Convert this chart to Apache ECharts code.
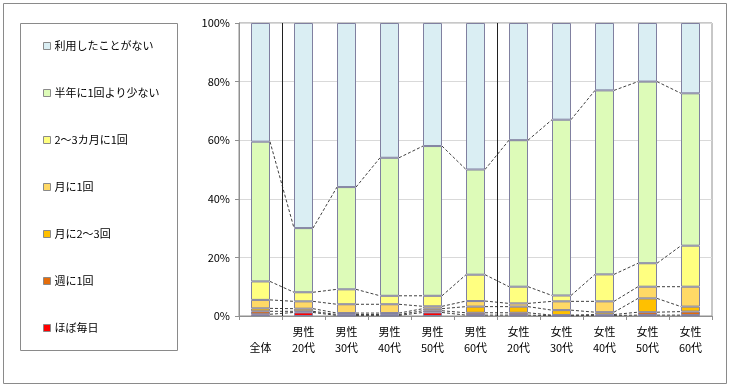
<!DOCTYPE html>
<html><head><meta charset="utf-8">
<script src="https://cdn.jsdelivr.net/npm/echarts@6/dist/echarts.min.js"></script>
<style>html,body{margin:0;padding:0;background:#fff}#c{width:730px;height:387px}</style>
</head><body><div id="c"></div>
<script>
const categories = ['全体','男性\n20代','男性\n30代','男性\n40代','男性\n50代','男性\n60代','女性\n20代','女性\n30代','女性\n40代','女性\n50代','女性\n60代'];
const seriesNames = ['ほぼ毎日','週に1回','月に2～3回','月に1回','2～3カ月に1回','半年に1回より少ない','利用したことがない'];
const mainichi   = [0.6,1.2,0.2,0.2,1.2,0.3,0.3,0.1,0.2,0.3,0.3];
const shuu       = [1.0,0.4,0.3,0.3,0.6,0.8,0.8,0.2,0.3,1.0,1.2];
const tsuki23    = [1.0,0.9,0.5,0.5,0.7,2.1,2.1,1.7,0.8,4.7,1.7];
const tsuki1     = [2.9,2.5,3.0,3.0,0.8,1.9,1.1,3.0,3.7,4.0,6.8];
const kagetsu23  = [6.3,3.1,5.1,2.9,3.6,9.0,5.7,2.0,9.2,8.0,14.0];
const hantoshi   = [47.7,21.9,34.9,47.1,51.1,35.9,50.0,60.0,62.8,62.0,52.0];
const nashi      = [40.5,70.0,56.0,46.0,42.0,50.0,40.0,33.0,23.0,20.0,24.0];
const yTicks = [0,20,40,60,80,100];
const separatorsAfter = [0,5];

const values = [mainichi,shuu,tsuki23,tsuki1,kagetsu23,hantoshi,nashi];
const colors = ['#FF0000','#E46C0A','#FFC000','#FFD966','#FFFF80','#DDFBB8','#DAEEF3'];
const BW = 19;

const cum = [];
let run = categories.map(()=>0);
values.forEach(v=>{ run = run.map((r,i)=>r+v[i]); cum.push(run.slice()); });

const connData = [];
for (let s=0; s<6; s++) for (let i=0;i<categories.length-1;i++) connData.push([i, cum[s][i], cum[s][i+1]]);

const series = values.map((v,k)=>({
  name: seriesNames[k], type:'bar', stack:'t', barWidth:BW, data:v,
  itemStyle:{color:colors[k], borderColor:'#8080A0', borderWidth:1},
  emphasis:{disabled:true}
}));
series.push({
  type:'custom', coordinateSystem:'cartesian2d', silent:true, z:5,
  encode:{x:0,y:1},
  data: connData,
  renderItem:(params,api)=>{
    const i = api.value(0);
    const p1 = api.coord([i, api.value(1)]);
    const p2 = api.coord([i+1, api.value(2)]);
    return {type:'line', shape:{x1:p1[0]+BW/2, y1:p1[1], x2:p2[0]-BW/2, y2:p2[1]},
      style:{stroke:'#404040', lineWidth:1, lineDash:[3,2]}};
  }
});
series.push({
  type:'custom', coordinateSystem:'cartesian2d', silent:true, z:6,
  encode:{x:0,y:1},
  data: separatorsAfter.map(i=>[i,0]),
  renderItem:(params,api)=>{
    const i = api.value(0);
    const w = api.size([1,0])[0];
    const a = api.coord([i,0]), b = api.coord([i,100]);
    const x = Math.round(a[0]+w/2)+0.5;
    return {type:'line', shape:{x1:x,y1:a[1],x2:x,y2:b[1]}, style:{stroke:'#202020', lineWidth:1}};
  }
});

const chart = echarts.init(document.getElementById('c'));
chart.setOption({
  animation:false,
  textStyle:{fontFamily:'"Noto Sans CJK JP", sans-serif'},
  graphic:[
    {type:'rect', shape:{x:3.5,y:3.5,width:723,height:380}, style:{fill:'none', stroke:'#8a8a8a', lineWidth:1}, silent:true},
    {type:'rect', shape:{x:20.5,y:23.5,width:157,height:327}, style:{fill:'none', stroke:'#8a8a8a', lineWidth:1}, silent:true}
  ],
  legend:{
    orient:'vertical', left:38, top:34, itemWidth:7, itemHeight:7, itemGap:33,
    icon:'rect',
    itemStyle:{borderColor:'#8a8a8a', borderWidth:1},
    data: seriesNames.slice().reverse(),
    textStyle:{fontSize:11, color:'#000', lineHeight:14, padding:[0,0,0,-1], fontFamily:'"Noto Sans CJK JP", sans-serif'},
    selectedMode:false
  },
  grid:{left:239, right:18, top:23, bottom:71, show:true, borderColor:'#909090', borderWidth:1},
  xAxis:{type:'category', data:categories,
    axisLine:{lineStyle:{color:'#909090'}},
    axisTick:{show:true, length:4, lineStyle:{color:'#909090'}},
    axisLabel:{fontSize:11, color:'#000', lineHeight:16, margin:8, interval:0,
      formatter:(v)=> v.indexOf('\n')<0 ? '\n'+v : v}
  },
  yAxis:{type:'value', min:0, max:100, interval:20,
    axisLine:{show:true, lineStyle:{color:'#909090'}},
    axisTick:{show:true, length:4, lineStyle:{color:'#909090'}},
    splitLine:{lineStyle:{color:'#D9D9D9'}},
    axisLabel:{fontSize:11, color:'#000', margin:9, formatter:(v)=> yTicks.includes(v)? v+'%':''}
  },
  series: series
});
</script></body></html>
